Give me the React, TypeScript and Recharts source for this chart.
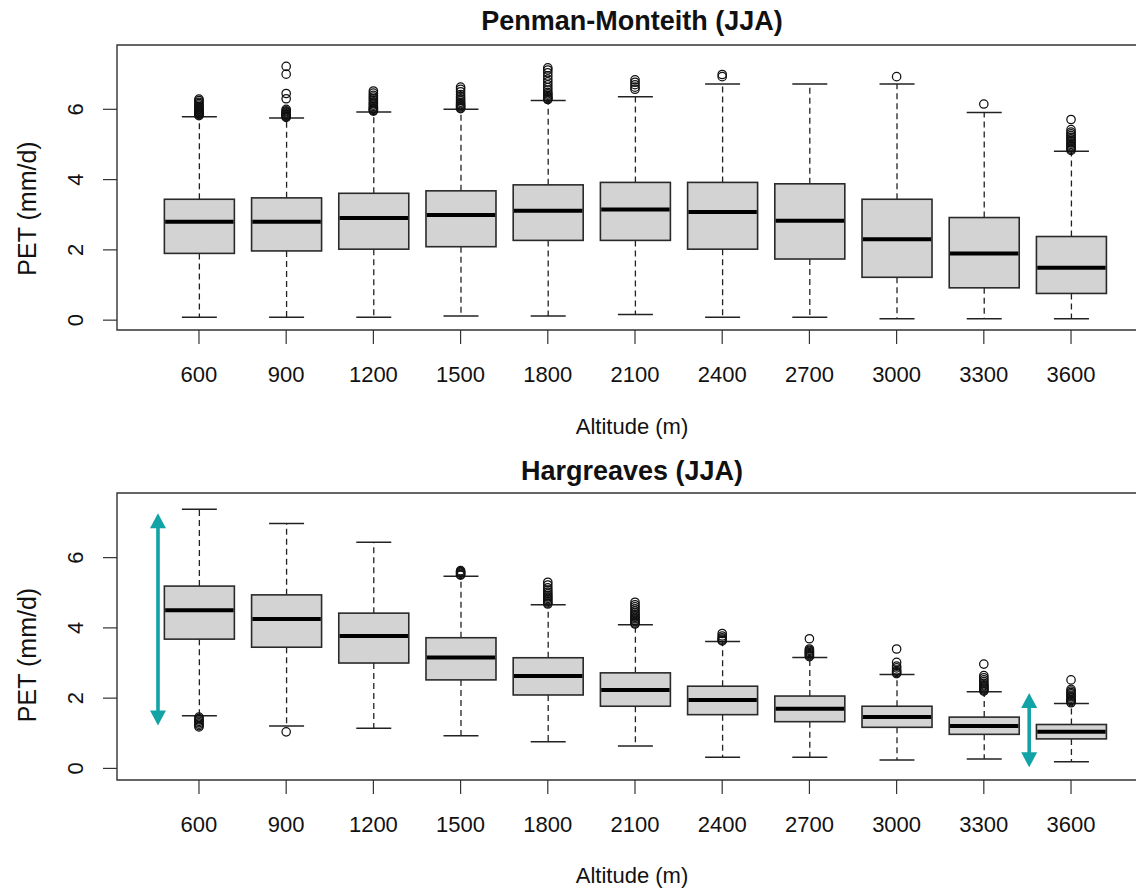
import {
  ComposedChart,
  Bar,
  Scatter,
  XAxis,
  YAxis,
  ReferenceArea,
  ReferenceLine,
} from "recharts";

const FONT = '"Liberation Sans", Arial, Helvetica, sans-serif';
const TEAL = "#12A3A6";

const altitudes = [600, 900, 1200, 1500, 1800, 2100, 2400, 2700, 3000, 3300, 3600];
const positions = [1, 2, 3, 4, 5, 6, 7, 8, 9, 10, 11];
const yTicks = [0, 2, 4, 6];

// Penman-Monteith (JJA)
const pmLow = [0.08, 0.08, 0.08, 0.12, 0.12, 0.16, 0.08, 0.08, 0.04, 0.04, 0.04];
const pmQ1 = [1.9, 1.97, 2.02, 2.09, 2.27, 2.27, 2.02, 1.74, 1.22, 0.92, 0.76];
const pmMed = [2.8, 2.8, 2.91, 2.99, 3.11, 3.15, 3.08, 2.83, 2.3, 1.9, 1.49];
const pmQ3 = [3.44, 3.48, 3.61, 3.68, 3.85, 3.92, 3.92, 3.88, 3.44, 2.92, 2.38];
const pmHigh = [5.79, 5.75, 5.92, 6.0, 6.25, 6.36, 6.72, 6.72, 6.72, 5.91, 4.81];
const pmOutliers = [
  [5.82, 5.84, 5.86, 5.88, 5.9, 5.92, 5.94, 5.96, 5.98, 6.0, 6.02, 6.05, 6.08, 6.12, 6.16, 6.2, 6.25, 6.29],
  [5.77, 5.79, 5.81, 5.83, 5.85, 5.87, 5.9, 5.93, 5.96, 6.0, 6.3, 6.45, 7.0, 7.22],
  [5.95, 5.97, 6.0, 6.02, 6.04, 6.08, 6.12, 6.16, 6.2, 6.25, 6.3, 6.35, 6.4, 6.46, 6.52],
  [6.02, 6.04, 6.07, 6.1, 6.13, 6.16, 6.2, 6.25, 6.3, 6.36, 6.42, 6.5, 6.57, 6.63],
  [6.28, 6.3, 6.33, 6.36, 6.4, 6.44, 6.48, 6.55, 6.62, 6.7, 6.78, 6.86, 6.95, 7.04, 7.12, 7.18],
  [6.57, 6.63, 6.7, 6.77, 6.84],
  [6.93, 6.99],
  [],
  [6.93],
  [6.15],
  [4.83, 4.86, 4.9, 4.93, 4.96, 5.0, 5.04, 5.08, 5.12, 5.16, 5.2, 5.25, 5.3, 5.35, 5.42, 5.71],
];

// Hargreaves (JJA)
const hgLow = [1.5, 1.21, 1.14, 0.93, 0.76, 0.64, 0.32, 0.32, 0.24, 0.27, 0.19];
const hgQ1 = [3.68, 3.45, 3.0, 2.52, 2.09, 1.77, 1.53, 1.33, 1.17, 0.97, 0.84];
const hgMed = [4.5, 4.25, 3.77, 3.16, 2.63, 2.23, 1.95, 1.7, 1.46, 1.21, 1.04];
const hgQ3 = [5.19, 4.94, 4.42, 3.72, 3.15, 2.72, 2.34, 2.06, 1.77, 1.46, 1.25];
const hgHigh = [7.38, 6.97, 6.44, 5.47, 4.66, 4.09, 3.61, 3.16, 2.67, 2.18, 1.85];
const hgOutliers = [
  [1.18, 1.22, 1.26, 1.3, 1.34, 1.38, 1.42, 1.46],
  [1.04],
  [],
  [5.5, 5.52, 5.55, 5.58, 5.6, 5.63],
  [4.68, 4.71, 4.75, 4.8, 4.84, 4.88, 4.92, 4.97, 5.02, 5.08, 5.14, 5.22, 5.3],
  [4.11, 4.14, 4.18, 4.22, 4.26, 4.3, 4.34, 4.38, 4.43, 4.48, 4.54, 4.6, 4.66, 4.73],
  [3.63, 3.65, 3.68, 3.72, 3.77, 3.84],
  [3.18, 3.21, 3.24, 3.27, 3.3, 3.33, 3.36, 3.4, 3.69],
  [2.7, 2.73, 2.76, 2.8, 2.86, 2.91, 3.02, 3.4],
  [2.2, 2.23, 2.26, 2.29, 2.32, 2.35, 2.38, 2.42, 2.47, 2.52, 2.58, 2.64, 2.97],
  [1.87, 1.9, 1.93, 1.96, 2.0, 2.04, 2.08, 2.12, 2.16, 2.2, 2.25, 2.52],
];

// teal range arrows drawn on the Hargreaves panel
const arrowPos = [0.53, 10.52];
const arrowFrom = [1.22, 0.03];
const arrowTo = [7.26, 2.15];

const xDomain = [0.06, 11.94];

function buildRows(low: number[], q1: number[], med: number[], q3: number[], high: number[]) {
  return positions.map((pos, i) => ({
    pos,
    low: low[i],
    q1: q1[i],
    med: med[i],
    q3: q3[i],
    high: high[i],
    box: [q1[i], q3[i]],
  }));
}

function buildOutliers(out: number[][]) {
  return out.flatMap((vals, i) => vals.map((v) => ({ pos: positions[i], v })));
}

const pmRows = buildRows(pmLow, pmQ1, pmMed, pmQ3, pmHigh);
const hgRows = buildRows(hgLow, hgQ1, hgMed, hgQ3, hgHigh);
const pmPoints = buildOutliers(pmOutliers);
const hgPoints = buildOutliers(hgOutliers);

function BoxShape(props: any) {
  const { x, y, width, height, payload } = props;
  const { low, q1, med, q3, high } = payload;
  const top = Math.min(y, y + height);
  const h = Math.abs(height);
  const ppu = h / (q3 - q1);
  const yOf = (v: number) => top + (q3 - v) * ppu;
  const cx = x + width / 2;
  const cap = width / 4;
  return (
    <g>
      <line x1={cx} x2={cx} y1={top} y2={yOf(high)} stroke="#222" strokeWidth={1.3} strokeDasharray="6 4" />
      <line x1={cx} x2={cx} y1={top + h} y2={yOf(low)} stroke="#222" strokeWidth={1.3} strokeDasharray="6 4" />
      <line x1={cx - cap} x2={cx + cap} y1={yOf(high)} y2={yOf(high)} stroke="#222" strokeWidth={1.5} />
      <line x1={cx - cap} x2={cx + cap} y1={yOf(low)} y2={yOf(low)} stroke="#222" strokeWidth={1.5} />
      <rect x={x} y={top} width={width} height={h} fill="#D3D3D3" stroke="#2a2a2a" strokeWidth={1.6} />
      <line x1={x + 0.8} x2={x + width - 0.8} y1={yOf(med)} y2={yOf(med)} stroke="#000" strokeWidth={4} />
    </g>
  );
}

function OutlierShape(props: any) {
  return <circle cx={props.cx} cy={props.cy} r={4.2} fill="none" stroke="#111" strokeWidth={1.25} />;
}

function ArrowShape(props: any) {
  const { x1, y1, y2 } = props;
  const top = Math.min(y1, y2);
  const bottom = Math.max(y1, y2);
  const head = 15;
  const half = 8;
  return (
    <g>
      <line x1={x1} x2={x1} y1={top + head - 1} y2={bottom - head + 1} stroke={TEAL} strokeWidth={3.6} />
      <polygon points={`${x1},${top} ${x1 - half},${top + head} ${x1 + half},${top + head}`} fill={TEAL} />
      <polygon points={`${x1},${bottom} ${x1 - half},${bottom - head} ${x1 + half},${bottom - head}`} fill={TEAL} />
    </g>
  );
}

function XTick(props: any) {
  const { x, y, payload } = props;
  return (
    <text x={x} y={y + 36} textAnchor="middle" fontFamily={FONT} fontSize={22} fill="#111">
      {altitudes[payload.value - 1]}
    </text>
  );
}

function YTick(props: any) {
  const { x, y, payload } = props;
  const tx = x - 18;
  return (
    <text
      x={tx}
      y={y}
      transform={`rotate(-90 ${tx} ${y})`}
      textAnchor="middle"
      fontFamily={FONT}
      fontSize={22}
      fill="#111"
    >
      {payload.value}
    </text>
  );
}

function BoxPanel({ rows, points, yDomain, height, marginBottom, showArrows }: any) {
  return (
    <ComposedChart
      width={1160}
      height={height}
      data={rows}
      margin={{ top: 45, right: 7, left: 0, bottom: marginBottom }}
    >
      <XAxis
        type="number"
        dataKey="pos"
        domain={xDomain}
        ticks={positions}
        interval={0}
        allowDataOverflow
        axisLine={false}
        tickSize={14}
        tickLine={{ stroke: "#333", strokeWidth: 1.2 }}
        tick={<XTick />}
        height={60}
      />
      <YAxis
        type="number"
        domain={yDomain}
        ticks={yTicks}
        allowDataOverflow
        axisLine={false}
        width={117}
        tickSize={14}
        tickLine={{ stroke: "#333", strokeWidth: 1.2 }}
        tick={<YTick />}
      />
      <Bar dataKey="box" barSize={70} shape={<BoxShape />} isAnimationActive={false} />
      <Scatter data={points} dataKey="v" shape={<OutlierShape />} isAnimationActive={false} />
      {showArrows &&
        arrowPos.map((p, i) => (
          <ReferenceLine
            key={i}
            segment={[
              { x: p, y: arrowTo[i] },
              { x: p, y: arrowFrom[i] },
            ]}
            shape={<ArrowShape />}
            ifOverflow="visible"
          />
        ))}
      <ReferenceArea
        x1={xDomain[0]}
        x2={xDomain[1]}
        y1={yDomain[0]}
        y2={yDomain[1]}
        fill="none"
        fillOpacity={0}
        stroke="#333"
        strokeWidth={1.4}
        ifOverflow="visible"
      />
    </ComposedChart>
  );
}

export default function App() {
  return (
    <div
      style={{
        position: "absolute",
        left: 0,
        top: 0,
        width: 1136,
        height: 889,
        overflow: "hidden",
        background: "#fff",
      }}
    >
      <div style={{ position: "absolute", left: 0, top: 0 }}>
        <BoxPanel rows={pmRows} points={pmPoints} yDomain={[-0.28, 7.83]} height={445} marginBottom={55} />
      </div>
      <div style={{ position: "absolute", left: 0, top: 448 }}>
        <BoxPanel
          rows={hgRows}
          points={hgPoints}
          yDomain={[-0.33, 7.84]}
          height={441}
          marginBottom={49}
          showArrows
        />
      </div>
      <svg
        width={1136}
        height={889}
        style={{ position: "absolute", left: 0, top: 0, pointerEvents: "none" }}
        fontFamily={FONT}
        fill="#111"
      >
        <text x={632} y={29.5} textAnchor="middle" fontSize={27} fontWeight="bold">
          Penman-Monteith (JJA)
        </text>
        <text x={632} y={479.5} textAnchor="middle" fontSize={27} fontWeight="bold">
          Hargreaves (JJA)
        </text>
        <text x={632} y={434} textAnchor="middle" fontSize={22}>
          Altitude (m)
        </text>
        <text x={632} y={883} textAnchor="middle" fontSize={22}>
          Altitude (m)
        </text>
        <text x={36} y={208.5} textAnchor="middle" fontSize={25} transform="rotate(-90 36 208.5)">
          PET (mm/d)
        </text>
        <text x={36} y={655} textAnchor="middle" fontSize={25} transform="rotate(-90 36 655)">
          PET (mm/d)
        </text>
      </svg>
    </div>
  );
}
